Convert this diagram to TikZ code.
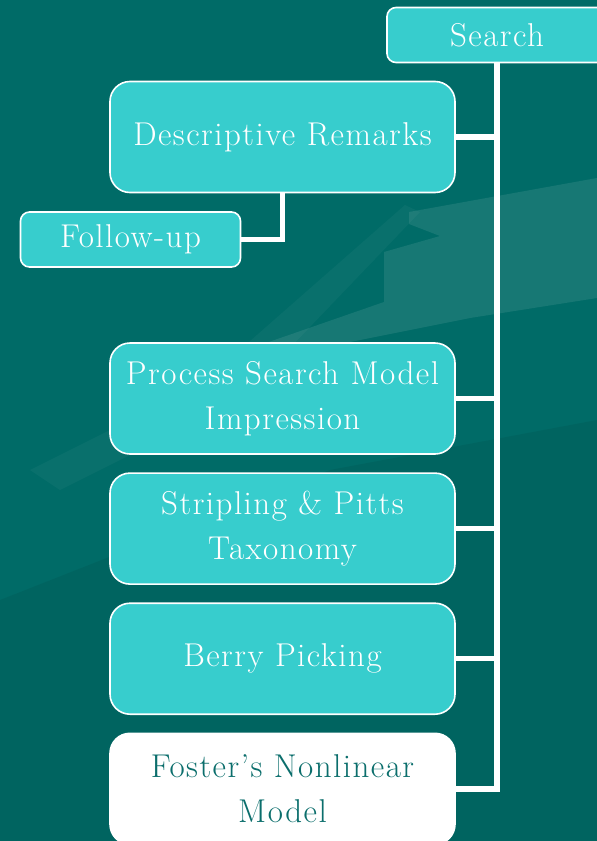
\documentclass[tikz,border=0pt]{standalone}
\usepackage{fontspec}
\setmainfont{Latin Modern Roman}
\usetikzlibrary{positioning,calc}
\definecolor{bgteal}{HTML}{006B67}
\definecolor{boxteal}{HTML}{37CDCD}
\definecolor{darkteal}{HTML}{0B6E6C}
\tikzset{
  item/.style  = {draw=white, line width=1.6pt, rounded corners=20pt, fill=boxteal,
                  minimum width=345pt, minimum height=111pt, inner sep=0pt,
                  align=center, text=white,
                  font=\fontsize{33}{45}\selectfont\addfontfeatures{LetterSpace=4.5}},
  tag/.style   = {item, rounded corners=9pt, minimum width=220pt, minimum height=55pt},
  last/.style  = {item, fill=white, text=darkteal},
  link/.style  = {draw=white, line width=5.5pt}
}
\begin{document}
\begin{tikzpicture}[x=1pt, y=-1pt]
  \useasboundingbox (0,0) rectangle (597,841);
  \fill[bgteal] (0,0) rectangle (597,841);
  % faint background swoosh
  \fill[white, opacity=0.09] (409,212) -- (597,178) -- (597,298) -- (470,318)
    -- (300,352) -- (240,352) -- (384,302) -- (384,252) -- (440,236) -- (409,224) -- cycle;
  \fill[white, opacity=0.035] (30,470) -- (200,385) -- (405,205) -- (420,212)
    -- (240,400) -- (60,490) -- cycle;
  \fill[black, opacity=0.06] (0,600) -- (330,470) -- (597,420) -- (597,841) -- (0,841) -- cycle;

  \node[tag] (srch) at (497,35) {Search};
  \node[item] (desc) at (282.5,137) {Descriptive Remarks};
  \node[tag] (follow) at (130.5,239.5) {Follow-up};
  \node[item] (proc) at (282.5,398.5) {Process Search Model\\Impression};
  \node[item, below=17.5pt of proc] (strip) {Stripling \& Pitts\\Taxonomy};
  \node[item, below=17.5pt of strip] (berry) {Berry Picking};
  \node[last, below=17.5pt of berry] (foster) {Foster’s Nonlinear\\Model};

  \draw[link] (srch.south) |- (foster.east);
  \draw[link] (desc.east) -- (desc.east -| srch.south);
  \draw[link] (proc.east) -- (proc.east -| srch.south);
  \draw[link] (strip.east) -- (strip.east -| srch.south);
  \draw[link] (berry.east) -- (berry.east -| srch.south);
  \draw[link] (desc.south) |- (follow.east);
\end{tikzpicture}
\end{document}
